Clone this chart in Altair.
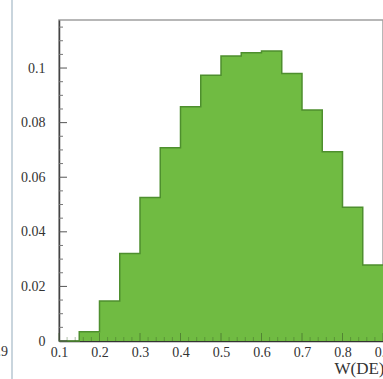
import altair as alt
import pandas as pd

# Normalised histogram of W(DE), bins of width 0.05
bin_lo = [0.10, 0.15, 0.20, 0.25, 0.30, 0.35, 0.40, 0.45,
          0.50, 0.55, 0.60, 0.65, 0.70, 0.75, 0.80, 0.85]
bin_width = 0.05
frac = [0.0, 0.0034, 0.0147, 0.0321, 0.0526, 0.0708, 0.0858, 0.0974,
        0.1044, 0.1056, 0.1062, 0.0980, 0.0846, 0.0693, 0.0490, 0.0278]

x_labels = [0.1, 0.2, 0.3, 0.4, 0.5, 0.6, 0.7, 0.8, 0.9]
x_minor = [0.12, 0.14, 0.16, 0.18, 0.22, 0.24, 0.26, 0.28, 0.32, 0.34,
           0.36, 0.38, 0.42, 0.44, 0.46, 0.48, 0.52, 0.54, 0.56, 0.58,
           0.62, 0.64, 0.66, 0.68, 0.72, 0.74, 0.76, 0.78, 0.82, 0.84,
           0.86, 0.88]
y_labels = [0.0, 0.02, 0.04, 0.06, 0.08, 0.1]
y_minor = [0.005, 0.01, 0.015, 0.025, 0.03, 0.035, 0.045, 0.05, 0.055,
           0.065, 0.07, 0.075, 0.085, 0.09, 0.095, 0.105, 0.11, 0.115]

FONT = "Liberation Serif"
GREEN = "#70bb42"
EDGE = "#4e8f2e"

# histogram drawn as a stepped outline: one point per bin edge
outline = pd.DataFrame({
    "x": bin_lo + [bin_lo[-1] + bin_width],
    "frac": frac + [frac[-1]],
})

xs = alt.Scale(domain=[0.1, 0.9], nice=False, zero=False)
ys = alt.Scale(domain=[0, 0.1176], nice=False)

base = alt.Chart(outline)

hist = base.mark_area(interpolate="step-after", color=GREEN).encode(
    x=alt.X("x:Q", scale=xs, axis=alt.Axis(
        values=x_labels, format="~g", ticks=False, tickSize=0, grid=False,
        labelFlush=False, labelFont=FONT, labelFontSize=14,
        labelColor="#333", labelPadding=4, domainColor="#333",
        domainWidth=1.5,
        title="W(DE)", titleFont=FONT, titleFontSize=17,
        titleFontWeight="normal", titleColor="#333",
        titleAlign="right", titleX=325, titleY=32,
        titleBaseline="alphabetic")),
    y=alt.Y("frac:Q", scale=ys, axis=alt.Axis(
        values=y_labels, format="~g", ticks=False, tickSize=0, grid=False,
        labelFlush=False, labelFont=FONT, labelFontSize=14,
        labelColor="#333", labelPadding=14, domainColor="#444",
        domainWidth=1.5, title=None)),
    y2=alt.datum(0),
)

step = base.mark_line(
    interpolate="step-after", color=EDGE, strokeWidth=1.5
).encode(x=alt.X("x:Q", scale=xs), y=alt.Y("frac:Q", scale=ys))

# inward tick marks on both axes
ymaj = alt.Chart(pd.DataFrame({"v": y_labels})).mark_rule(
    color="#555", strokeWidth=1).encode(
    y=alt.Y("v:Q", scale=ys), x=alt.value(0), x2=alt.value(8))
ymin = alt.Chart(pd.DataFrame({"v": y_minor})).mark_rule(
    color="#777", strokeWidth=1).encode(
    y=alt.Y("v:Q", scale=ys), x=alt.value(0), x2=alt.value(4))
xmaj = alt.Chart(pd.DataFrame({"v": x_labels})).mark_rule(
    color="#3d5f2a", strokeWidth=1, opacity=0.6).encode(
    x=alt.X("v:Q", scale=xs), y=alt.value(321), y2=alt.value(313))
xmin = alt.Chart(pd.DataFrame({"v": x_minor})).mark_rule(
    color="#3d5f2a", strokeWidth=1, opacity=0.4).encode(
    x=alt.X("v:Q", scale=xs), y=alt.value(321), y2=alt.value(317))

# edge of the neighbouring panel on the left
border = alt.Chart(pd.DataFrame({"k": [0]})).mark_rule(
    color="#c9d5dd", strokeWidth=2).encode(
    x=alt.value(-47), y=alt.value(-20), y2=alt.value(359))
neighbour = alt.Chart(pd.DataFrame({"t": ["0.9"]})).mark_text(
    font=FONT, fontSize=14, color="#333", align="right", baseline="middle"
).encode(text="t:N", x=alt.value(-51), y=alt.value(332))

chart = alt.layer(hist, step, ymin, ymaj, xmin, xmaj, border, neighbour).properties(
    width=324, height=321,
    autosize=alt.AutoSizeParams(type="none"),
    padding={"left": 59, "top": 20, "right": 0, "bottom": 38},
    background="white",
).configure_view(stroke="#a0a0a0", strokeWidth=1.5)

chart.save("out.html", embed_options={"renderer": "svg", "actions": False})
